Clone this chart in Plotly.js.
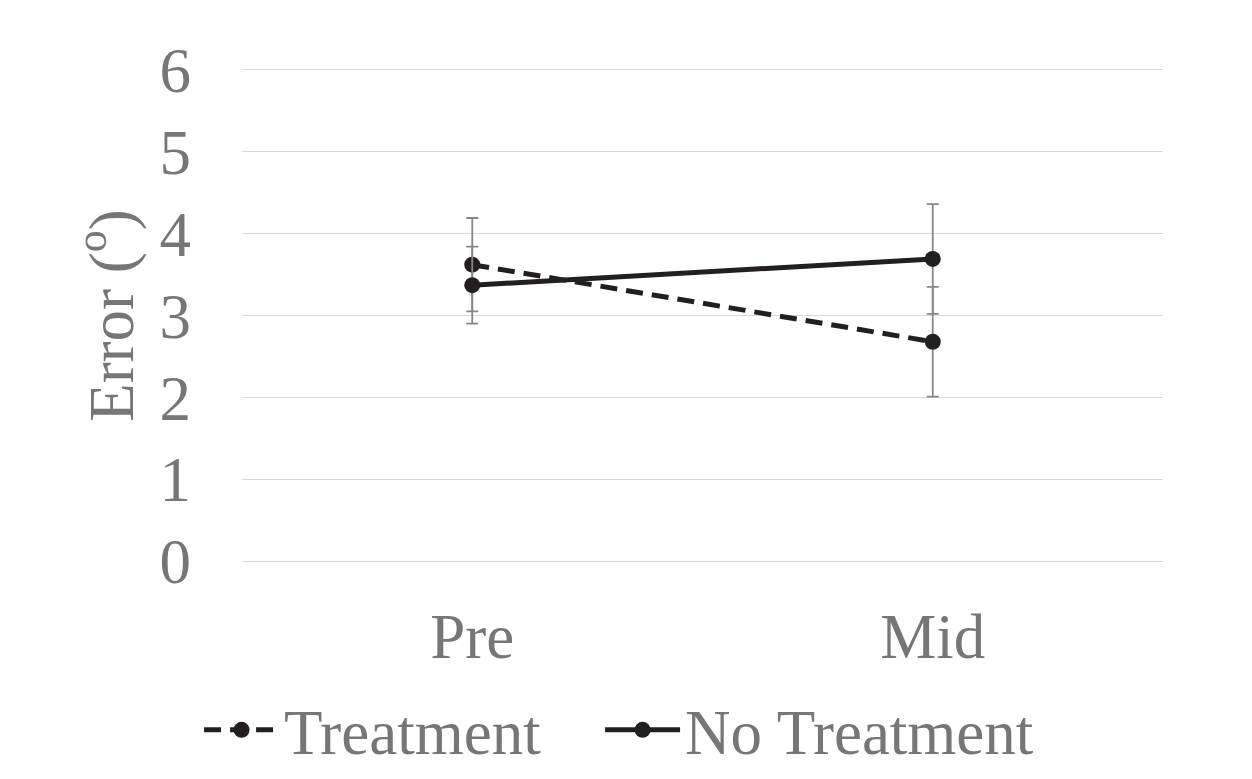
<!DOCTYPE html>
<html>
<head>
<meta charset="utf-8">
<script src="https://cdn.plot.ly/plotly-3.0.1.min.js"></script>
<style>html,body{margin:0;padding:0;background:#fff;}#chart{width:1252px;height:779px;}</style>
</head>
<body>
<div id="chart"></div>
<script>
const categories = ["Pre", "Mid"];
const treatment = [3.62, 2.68];
const treatmentErr = [0.57, 0.67];
const noTreatment = [3.37, 3.69];
const noTreatmentErr = [0.47, 0.67];
const yTicks = [0, 1, 2, 3, 4, 5, 6];

const textColor = "#767676";
const lineColor = "#231f20";
const font = {family: "Liberation Serif, Times New Roman, serif", size: 63, color: textColor};

const traces = [
  {
    x: categories, y: treatment, name: "Treatment", type: "scatter", mode: "lines+markers",
    legendwidth: 311,
    line: {color: lineColor, width: 5, dash: "17px,9px"},
    marker: {color: lineColor, size: 16},
    error_y: {type: "data", array: treatmentErr, visible: true, color: "#878787", thickness: 1.8, width: 6}
  },
  {
    x: categories, y: noTreatment, name: "No Treatment", type: "scatter", mode: "lines+markers",
    line: {color: lineColor, width: 5},
    marker: {color: lineColor, size: 16},
    error_y: {type: "data", array: noTreatmentErr, visible: true, color: "#878787", thickness: 1.8, width: 6}
  }
];

const layout = {
  width: 1252, height: 779,
  margin: {l: 242, r: 89, t: 68.4, b: 216.4, autoexpand: false},
  paper_bgcolor: "#fff", plot_bgcolor: "#fff",
  font: font,
  showlegend: true,
  legend: {orientation: "h", x: 0.159, xanchor: "left", xref: "container",
           y: 0.063, yanchor: "middle", yref: "container",
           font: font, traceorder: "normal", itemwidth: 75},
  xaxis: {
    type: "category", range: [-0.5, 1.5], showgrid: false, zeroline: false, showline: false,
    ticks: "", tickfont: font, ticklabelstandoff: 31, fixedrange: true
  },
  yaxis: {
    range: [-0.02, 6.02], tickvals: yTicks, ticktext: yTicks.map(String),
    showgrid: true, gridcolor: "#d9d9d9", gridwidth: 1.5, zeroline: false, showline: false,
    ticks: "", tickfont: font, ticklabelstandoff: 50,
    title: {text: "Error (<sup>o</sup>)", font: font, standoff: 5}
  }
};

Plotly.newPlot("chart", traces, layout, {displayModeBar: false, staticPlot: true});
</script>
</body>
</html>
